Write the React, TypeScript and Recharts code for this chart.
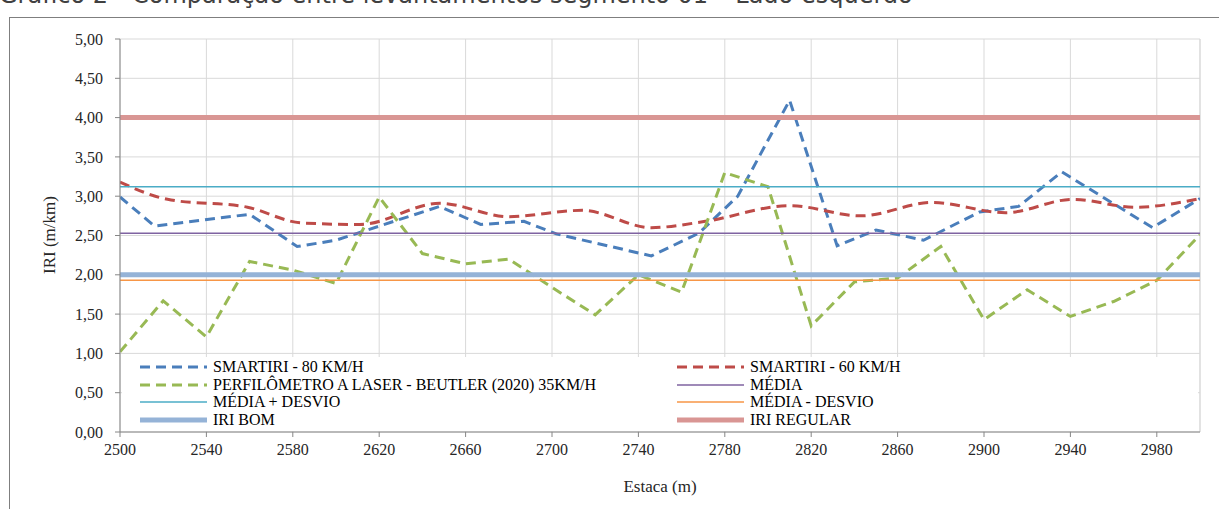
import React from 'react';
import { LineChart, Line, XAxis, YAxis, CartesianGrid, ReferenceLine } from 'recharts';

// SMARTIRI - 80 KM/H (estaca irregular)
const blueStations = [2500, 2516, 2560, 2582, 2600, 2648, 2667, 2687, 2702, 2746, 2768, 2786, 2810, 2832, 2850, 2872, 2898, 2916, 2936, 2978, 3000];
const blueIri = [2.99, 2.62, 2.77, 2.36, 2.44, 2.87, 2.64, 2.68, 2.52, 2.24, 2.53, 3.0, 4.22, 2.37, 2.57, 2.44, 2.8, 2.87, 3.31, 2.6, 2.97];

// SMARTIRI - 60 KM/H
const redStations = [2500, 2522, 2559, 2584, 2611, 2648, 2680, 2714, 2746, 2771, 2810, 2843, 2876, 2910, 2941, 2970, 3000];
const redIri = [3.18, 2.96, 2.86, 2.66, 2.64, 2.91, 2.74, 2.82, 2.6, 2.68, 2.88, 2.75, 2.92, 2.79, 2.96, 2.86, 2.97];

// Perfilômetro a laser
const greenStations = [2500, 2520, 2540, 2560, 2580, 2600, 2620, 2640, 2660, 2680, 2700, 2720, 2740, 2760, 2780, 2800, 2820, 2840, 2860, 2880, 2900, 2920, 2940, 2960, 2980, 3000];
const greenIri = [1.02, 1.67, 1.21, 2.17, 2.06, 1.89, 2.99, 2.27, 2.14, 2.2, 1.84, 1.49, 2.0, 1.78, 3.3, 3.12, 1.35, 1.91, 1.96, 2.36, 1.43, 1.81, 1.47, 1.66, 1.93, 2.51];

const MEDIA = 2.53;
const MEDIA_MAIS = 3.12;
const MEDIA_MENOS = 1.93;
const IRI_BOM = 2.0;
const IRI_REGULAR = 4.0;

const xTicks = [2500, 2540, 2580, 2620, 2660, 2700, 2740, 2780, 2820, 2860, 2900, 2940, 2980];
const yTicks = [0, 0.5, 1, 1.5, 2, 2.5, 3, 3.5, 4, 4.5, 5];

const toPoints = (xs: number[], ys: number[]) => xs.map((x, i) => ({ x, y: ys[i] }));
const flat = (v: number) => [{ x: 2500, y: v }, { x: 3000, y: v }];

const series = [
  { name: 'SMARTIRI - 80 KM/H', data: toPoints(blueStations, blueIri), color: '#4A7EBB', width: 3, dash: '10 6', type: 'linear' },
  { name: 'SMARTIRI - 60 KM/H', data: toPoints(redStations, redIri), color: '#BE4B48', width: 3, dash: '10 6', type: 'monotone' },
  { name: 'PERFILÔMETRO A LASER - BEUTLER (2020) 35KM/H', data: toPoints(greenStations, greenIri), color: '#98B954', width: 3, dash: '10 6', type: 'linear' },
  { name: 'MÉDIA', data: flat(MEDIA), color: '#7F63A1', width: 1.5, dash: undefined, type: 'linear' },
  { name: 'MÉDIA + DESVIO', data: flat(MEDIA_MAIS), color: '#4BACC6', width: 1.5, dash: undefined, type: 'linear' },
  { name: 'MÉDIA - DESVIO', data: flat(MEDIA_MENOS), color: '#F79646', width: 1.5, dash: undefined, type: 'linear' },
  { name: 'IRI BOM', data: flat(IRI_BOM), color: '#95B3D7', width: 5, dash: undefined, type: 'linear' },
  { name: 'IRI REGULAR', data: flat(IRI_REGULAR), color: '#D99694', width: 5, dash: undefined, type: 'linear' },
];

const serif = '"Liberation Serif", "Times New Roman", serif';
const fmt = (v: number) => v.toFixed(2).replace('.', ',');

function LegendBox() {
  return (
    <div
      style={{
        position: 'absolute', left: 122, top: 357, width: 1076, height: 74,
        background: '#fff', fontFamily: serif, fontSize: 16, color: '#000',
      }}
    >
      {series.map((s, i) => {
        const col = i % 2;
        const row = Math.floor(i / 2);
        const left = col === 0 ? 18 : 555;
        const top = 1 + row * 17.5;
        return (
          <div key={s.name} style={{ position: 'absolute', left, top, height: 18, display: 'flex', alignItems: 'center', whiteSpace: 'nowrap', lineHeight: '18px' }}>
            <svg width={67} height={10} style={{ marginRight: 6 }}>
              <line x1={0} y1={5} x2={67} y2={5} stroke={s.color} strokeWidth={s.width} strokeDasharray={s.dash} />
            </svg>
            <span>{s.name}</span>
          </div>
        );
      })}
    </div>
  );
}

export default function App() {
  return (
    <div style={{ position: 'absolute', left: 0, top: 0, width: 1219, height: 509, overflow: 'hidden', background: '#fff' }}>
      <div
        style={{
          position: 'absolute', left: -1, top: -17, fontFamily: '"DejaVu Sans", sans-serif',
          fontSize: 24, color: '#404040', whiteSpace: 'nowrap', lineHeight: '24px',
        }}
      >
        Gráfico 2 - Comparação entre levantamentos segmento 01 – Lado esquerdo
      </div>
      <div style={{ position: 'absolute', left: 9, top: 17, width: 1230, height: 520, borderTop: '1px solid #7F7F7F', borderLeft: '1px solid #7F7F7F' }} />
      <div style={{ position: 'absolute', left: 0, top: 0, fontFamily: serif }}>
        <LineChart width={1219} height={509} margin={{ top: 39, right: 19, bottom: 47, left: 60 }} style={{ fontFamily: serif }}>
          <CartesianGrid stroke="#D9D9D9" />
          <XAxis
            type="number"
            dataKey="x"
            domain={[2500, 3000]}
            ticks={xTicks}
            interval={0}
            allowDataOverflow
            height={30}
            axisLine={{ stroke: '#868686' }}
            tickLine={{ stroke: '#868686' }}
            tickSize={5}
            tickMargin={7}
            tick={{ fontFamily: serif, fontSize: 16, fill: '#262626', style: { fontFamily: serif } }}
          />
          <YAxis
            type="number"
            domain={[0, 5]}
            ticks={yTicks}
            interval={0}
            width={60}
            tickFormatter={fmt}
            axisLine={{ stroke: '#868686' }}
            tickLine={{ stroke: '#868686' }}
            tickSize={5}
            tickMargin={12}
            tick={{ fontFamily: serif, fontSize: 16, fill: '#262626', style: { fontFamily: serif } }}
          />
          <ReferenceLine x={3000} stroke="#D9D9D9" />
          {series.map((s) => (
            <Line
              key={s.name}
              data={s.data}
              dataKey="y"
              name={s.name}
              type={s.type as any}
              stroke={s.color}
              strokeWidth={s.width}
              strokeDasharray={s.dash}
              dot={false}
              activeDot={false}
              isAnimationActive={false}
            />
          ))}
        </LineChart>
      </div>
      <LegendBox />
      <div style={{ position: 'absolute', left: 0, width: 1219, top: 477, paddingLeft: 101, boxSizing: 'border-box', textAlign: 'center', fontFamily: serif, fontSize: 17, color: '#262626' }}>
        Estaca (m)
      </div>
      <div style={{ position: 'absolute', left: 50, top: 235, transform: 'translate(-50%, -50%) rotate(-90deg)', fontFamily: serif, fontSize: 17, color: '#262626', whiteSpace: 'nowrap' }}>
        IRI (m/km)
      </div>
    </div>
  );
}
